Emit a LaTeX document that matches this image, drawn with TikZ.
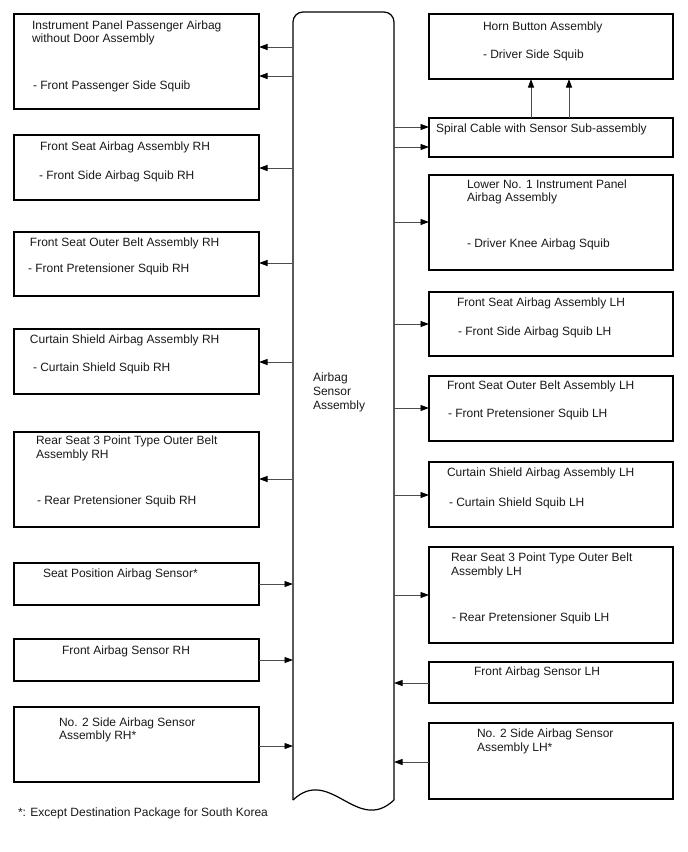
\documentclass[tikz,border=0pt]{standalone}
\usepackage{fontspec}
\setmainfont{Liberation Sans}
\usetikzlibrary{arrows.meta}
\newcommand\bx[5]{\node[boxst, minimum width={#4-#2}, minimum height={#5-#3}, anchor=north west] (#1) at (#2,#3) {};}
\newcommand\lb[4]{\node[lbl] (#1) at (#2,#3+4) {#4};}
\begin{document}
\begin{tikzpicture}[x=1pt,y=-1pt,
  boxst/.style={draw=black, line width=1.2pt, inner sep=0pt, outer sep=0pt},
  lbl/.style={anchor=base west, inner sep=0pt, outer sep=0pt, font=\fontsize{12}{14}\selectfont, text=black!90},
  arr/.style={draw=black!70, line width=0.9pt, -{Triangle[length=8.5pt,width=6pt,color=black,fill=black]}}]
\useasboundingbox (0,0) rectangle (688,852);
% central sensor
\node[inner sep=0pt, outer sep=0pt, minimum width=101, minimum height=788, anchor=north west] (sensor) at (293,12) {};
\draw[line width=1.2pt, rounded corners=10pt] (sensor.south west) -- (sensor.north west) -- (sensor.north east) -- (sensor.south east);
\draw[line width=1.2pt] (sensor.south west) .. controls (330,765) and (357,835) .. (sensor.south east);
\lb{s1}{313}{377}{Airbag}
\lb{s2}{313}{391}{Sensor}
\lb{s3}{313}{405}{Assembly}
% left boxes
\bx{L1}{14}{14}{259}{109}
\bx{L2}{14}{135}{259}{200}
\bx{L3}{14}{232}{259}{296}
\bx{L4}{14}{329}{259}{394}
\bx{L5}{14}{432}{259}{527}
\bx{L6}{14}{563}{259}{605}
\bx{L7}{14}{639}{259}{681}
\bx{L8}{14}{707}{259}{782}
% right boxes
\bx{R1}{429}{14}{673}{79}
\bx{R2}{429}{118}{673}{157}
\bx{R3}{429}{175}{673}{270}
\bx{R4}{429}{292}{673}{356}
\bx{R5}{429}{376}{673}{441}
\bx{R6}{429}{462}{673}{527}
\bx{R7}{429}{547}{673}{643}
\bx{R8}{429}{662}{673}{703}
\bx{R9}{429}{723}{673}{799}
% left labels
\lb{a1}{32}{25}{Instrument Panel Passenger Airbag}
\lb{a2}{32}{38}{without Door Assembly}
\lb{a3}{33}{85}{- Front Passenger Side Squib}
\lb{b1}{40}{146}{Front Seat Airbag Assembly RH}
\lb{b2}{39}{175}{- Front Side Airbag Squib RH}
\lb{c1}{30}{242}{Front Seat Outer Belt Assembly RH}
\lb{c2}{28}{268}{- Front Pretensioner Squib RH}
\lb{d1}{30}{339}{Curtain Shield Airbag Assembly RH}
\lb{d2}{33}{367}{- Curtain Shield Squib RH}
\lb{e1}{36}{440}{Rear Seat 3 Point Type Outer Belt}
\lb{e2}{36}{454}{Assembly RH}
\lb{e3}{37}{500}{- Rear Pretensioner Squib RH}
\lb{f1}{43}{573}{Seat Position Airbag Sensor*}
\lb{g1}{62}{650}{Front Airbag Sensor RH}
\lb{h1}{59}{722}{No. 2 Side Airbag Sensor}
\lb{h2}{59}{735}{Assembly RH*}
% right labels
\lb{i1}{483}{26}{Horn Button Assembly}
\lb{i2}{483}{54}{- Driver Side Squib}
\lb{j1}{436}{128}{Spiral Cable with Sensor Sub-assembly}
\lb{k1}{467}{184}{Lower No. 1 Instrument Panel}
\lb{k2}{467}{197}{Airbag Assembly}
\lb{k3}{467}{243}{- Driver Knee Airbag Squib}
\lb{m1}{457}{302}{Front Seat Airbag Assembly LH}
\lb{m2}{458}{331}{- Front Side Airbag Squib LH}
\lb{n1}{447}{385}{Front Seat Outer Belt Assembly LH}
\lb{n2}{448}{413}{- Front Pretensioner Squib LH}
\lb{o1}{447}{472}{Curtain Shield Airbag Assembly LH}
\lb{o2}{449}{502}{- Curtain Shield Squib LH}
\lb{p1}{451}{557}{Rear Seat 3 Point Type Outer Belt}
\lb{p2}{451}{571}{Assembly LH}
\lb{p3}{452}{617}{- Rear Pretensioner Squib LH}
\lb{q1}{474}{671}{Front Airbag Sensor LH}
\lb{r1}{477}{733}{No. 2 Side Airbag Sensor}
\lb{r2}{477}{747}{Assembly LH*}
\lb{fn}{18}{812}{*: Except Destination Package for South Korea}
% arrows left
\draw[arr] (sensor.west |- 0,47) -- (L1.east |- 0,47);
\draw[arr] (sensor.west |- 0,76) -- (L1.east |- 0,76);
\draw[arr] (sensor.west |- 0,168) -- (L2.east |- 0,168);
\draw[arr] (sensor.west |- 0,263) -- (L3.east |- 0,263);
\draw[arr] (sensor.west |- 0,362) -- (L4.east |- 0,362);
\draw[arr] (sensor.west |- 0,479) -- (L5.east |- 0,479);
\draw[arr] (L6.east |- 0,584) -- (sensor.west |- 0,584);
\draw[arr] (L7.east |- 0,660) -- (sensor.west |- 0,660);
\draw[arr] (L8.east |- 0,746) -- (sensor.west |- 0,746);
% arrows right
\draw[arr] (sensor.east |- 0,127) -- (R2.west |- 0,127);
\draw[arr] (sensor.east |- 0,147) -- (R2.west |- 0,147);
\draw[arr] (sensor.east |- 0,222) -- (R3.west |- 0,222);
\draw[arr] (sensor.east |- 0,324) -- (R4.west |- 0,324);
\draw[arr] (sensor.east |- 0,408) -- (R5.west |- 0,408);
\draw[arr] (sensor.east |- 0,495) -- (R6.west |- 0,495);
\draw[arr] (sensor.east |- 0,595) -- (R7.west |- 0,595);
\draw[arr] (R8.west |- 0,683) -- (sensor.east |- 0,683);
\draw[arr] (R9.west |- 0,762) -- (sensor.east |- 0,762);
% spiral to horn
\draw[arr] (R2.north -| 531,0) -- (R1.south -| 531,0);
\draw[arr] (R2.north -| 569,0) -- (R1.south -| 569,0);
\end{tikzpicture}
\end{document}
